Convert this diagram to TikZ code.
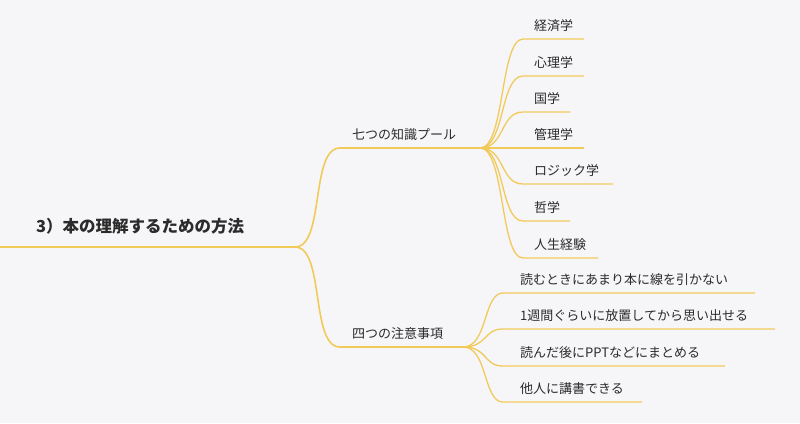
\documentclass[tikz,border=0pt]{standalone}
\usepackage{fontspec}
\newfontfamily\cjk{Noto Sans CJK JP}
\definecolor{bg}{HTML}{F6F6F9}
\definecolor{ln}{HTML}{F2CA5A}
\definecolor{tx}{HTML}{2B2B2B}
\begin{document}
\begin{tikzpicture}[x=1pt,y=-1pt,
  br/.style={draw=ln,line width=1.6pt},
  lf/.style={draw=ln,line width=1.3pt},
  lbl/.style={anchor=base west,inner sep=0pt,text=tx,font=\cjk\fontsize{13}{13}\selectfont},
  rootlbl/.style={anchor=base west,inner sep=0pt,text=tx,font=\cjk\bfseries\fontsize{16.5}{16.5}\selectfont}]
\fill[bg] (0,0) rectangle (800,423);
\useasboundingbox (0,0) rectangle (800,423);
% root
\coordinate (r0) at (0,247);
\coordinate (rh) at (295,247);
\node[rootlbl] (root) at (36,232) {3）本の理解するための方法};
\draw[line width=2.2pt,draw=ln] (r0) -- (18,247);
\draw[br] (18,247) -- (rh);
% branch 1
\coordinate (h1s) at (340,148);
\coordinate (h1) at (480,148);
\node[lbl] (b1) at (352,139) {七つの知識プール};
\draw[br] (rh) .. controls (325,247) and (310,148) .. (h1s) -- (h1);
% branch 2
\coordinate (h2s) at (340,347);
\coordinate (h2) at (463,347);
\node[lbl] (b2) at (352,338) {四つの注意事項};
\draw[br] (rh) .. controls (325,247) and (310,347) .. (h2s) -- (h2);
% leaves of branch 1
\foreach \y/\e/\t [count=\i] in {39/584/経済学,76/584/心理学,112/570/国学,148/584/管理学,184/613/ロジック学,221/570/哲学,258/598/人生経験}{
  \coordinate (a\i s) at (523,\y);
  \coordinate (a\i e) at (\e,\y);
  \node[lbl] (a\i) at (534,\y-9) {\t};
  \draw[lf] (h1) .. controls (505,148) and (500,\y) .. (a\i s) -- (a\i e);
}
% leaves of branch 2
\foreach \y/\e/\t [count=\i] in {293/755/読むときにあまり本に線を引かない,329/775/1週間ぐらいに放置してから思い出せる,366/725/読んだ後にPPTなどにまとめる,402/642/他人に講書できる}{
  \coordinate (c\i s) at (503,\y);
  \coordinate (c\i e) at (\e,\y);
  \node[lbl] (c\i) at (520,\y-9) {\t};
  \draw[lf] (h2) .. controls (488,347) and (483,\y) .. (c\i s) -- (c\i e);
}
\end{tikzpicture}
\end{document}
